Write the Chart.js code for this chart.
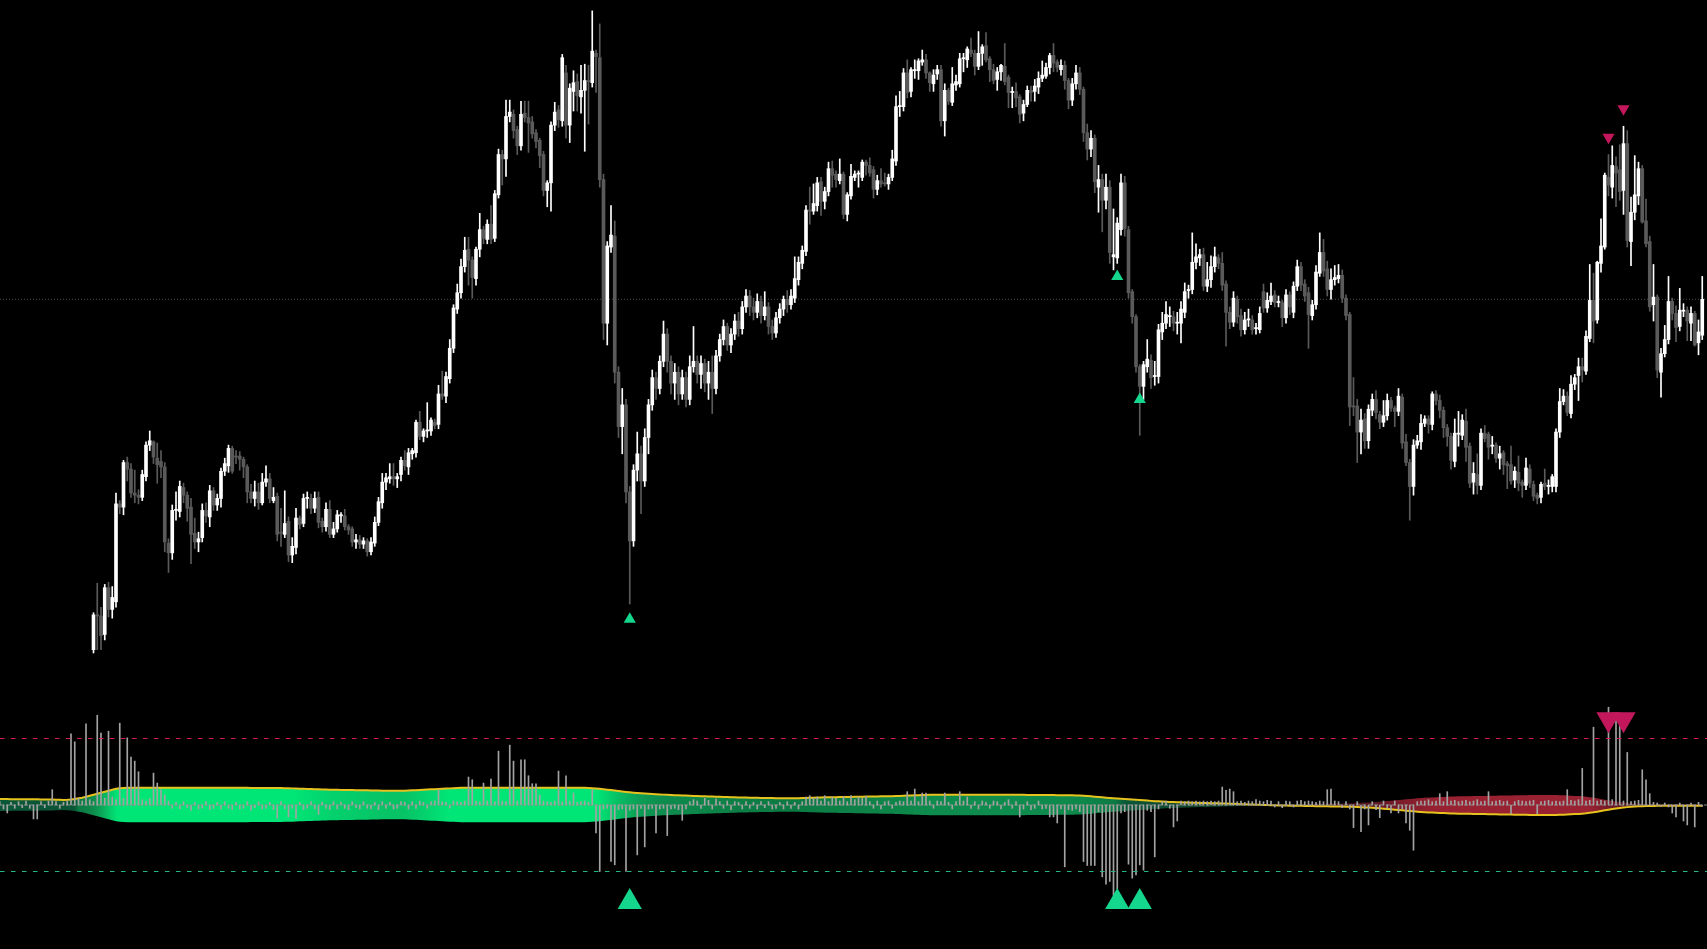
<!DOCTYPE html>
<html>
<head>
<meta charset="utf-8">
<script src="https://cdn.jsdelivr.net/npm/chart.js@4.4.1/dist/chart.umd.min.js"></script>
<style>
  html, body { margin: 0; padding: 0; background: #000; overflow: hidden; }
  #wrap { width: 1707px; height: 949px; }
</style>
</head>
<body>
<div id="wrap"><canvas id="myChart"></canvas></div>
<script>
// price bars, index 0 = first visible candle
const barOpen = [
  275,307,306,289,332,312,319,409,406,447, 441,419,417,415,434,463,466,451,448,443,
  373,364,403,402,424,417,406,382,374,378, 403,397,421,408,414,439,444,460,453,453,
  450,443,420,414,420,410,429,432,412,416, 383,381,393,362,369,396,391,414,414,405,
  415,393,388,404,381,386,398,398,388,386, 374,376,372,375,365,373,392,410,429,432,
  434,432,436,449,443,455,456,484,471,476, 476,484,482,510,508,524,552,588,603,627,
  643,633,616,643,661,652,666,653,693,730, 726,765,767,753,738,768,764,760,750,743,
  730,697,704,757,771,761,805,757,788,797, 783,789,798,796,823,819,707,575,645,655,
  530,480,500,420,375,440,455,430,470,500, 525,515,540,565,540,520,530,510,525,505,
  535,540,528,538,520,530,515,545,560,572, 555,565,577,570,590,600,590,585,595,582,
  590,572,566,580,588,597,592,598,615,630, 641,679,678,683,705,687,696,717,712,706,
  712,675,692,709,712,709,723,720,716,698, 706,704,703,709,724,774,774,805,788,807,
  807,815,817,805,795,804,808,761,789,778, 794,795,818,817,826,823,811,823,830,818,
  808,799,806,811,801,787,788,783,768,776, 789,788,792,800,802,810,821,815,808,812,
  798,780,795,805,790,750,735,745,700,707, 688,700,636,635,661,704,661,604,581,535,
  517,535,541,526,526,567,575,581,581,575, 575,585,605,606,631,635,638,609,615,627,
  635,630,611,585,576,597,582,569,578,578, 570,569,604,589,595,601,594,594,580,601,
  585,609,627,611,603,582,592,621,640,625, 606,615,616,619,598,583,499,499,475,487,
  467,495,505,491,484,490,504,497,494,507, 466,447,425,463,466,483,487,482,510,504,
  495,479,471,448,473,472,485,462,429,436, 426,474,473,462,463,451,456,446,445,431,
  438,429,426,441,427,417,415,428,425,425, 425,475,503,508,492,519,527,535,531,561,
  596,578,630,645,709,700,719,716,697,740, 650,677,692,717,669,650,592,599,530,547,
  560,595,584,572,586,587,575,584,557,564
];
const barHigh = [
  309,336,314,335,337,333,419,412,449,452, 446,440,422,440,466,476,467,465,458,447,
  377,408,420,430,428,420,414,396,383,409, 410,426,424,418,442,451,463,462,458,457,
  452,445,427,430,428,437,444,437,424,419, 405,421,397,378,405,398,418,420,418,420,
  420,396,410,412,392,403,401,404,390,388, 381,380,378,377,378,397,415,437,437,446,
  446,437,452,458,460,460,486,494,478,502, 488,487,518,531,530,560,592,611,634,654,
  654,636,645,676,664,670,683,697,735,734, 780,780,771,756,779,779,779,765,753,745,
  733,706,760,778,775,822,812,795,807,804, 812,813,812,862,826,850,712,650,683,669,
  535,515,505,425,445,475,462,478,505,532, 530,545,577,570,545,538,535,532,530,545,
  572,545,545,542,540,545,550,565,578,575, 570,583,585,595,606,605,598,602,600,604,
  594,578,585,593,600,605,606,636,636,646, 683,700,703,709,709,700,723,724,715,726,
  714,695,721,715,715,725,725,727,719,711, 717,713,712,734,784,788,809,817,810,817,
  818,826,822,806,808,812,812,795,791,810, 803,823,823,829,837,826,843,831,842,820,
  813,810,813,832,803,792,796,785,780,793, 793,799,806,816,814,823,832,817,817,816,
  800,800,812,810,792,758,752,748,720,712, 712,706,680,672,712,710,664,606,583,537,
  540,560,546,540,574,585,595,590,586,585, 595,612,610,658,648,643,644,631,637,645,
  638,640,614,590,604,600,588,585,588,582, 575,590,611,603,612,605,600,596,606,604,
  613,633,631,615,608,596,628,658,652,632, 625,628,629,624,601,585,525,505,496,492,
  500,510,513,494,504,510,507,499,515,510, 473,450,468,472,491,490,490,512,513,509,
  498,482,474,487,494,491,496,465,447,455, 478,481,475,471,465,462,458,448,462,443,
  453,431,451,445,430,419,429,441,431,436, 478,515,514,512,527,528,543,543,568,629,
  621,632,671,713,730,738,728,739,756,752, 691,729,723,720,689,655,629,601,552,573,
  618,598,591,607,593,590,590,586,578,618
];
const barLow = [
  272,275,275,284,305,304,314,400,399,430, 415,410,409,412,430,458,446,428,433,365,
  346,358,394,397,410,393,354,368,365,374, 392,388,403,403,406,435,438,437,446,440,
  433,410,410,407,404,408,425,410,410,375, 370,378,356,355,363,386,388,405,400,401,
  387,383,384,378,378,383,392,385,381,370, 368,368,368,361,362,370,389,405,422,428,
  426,424,430,440,436,450,452,468,466,470, 472,478,478,505,502,520,548,584,598,622,
  610,598,610,636,648,648,648,650,690,702, 710,760,745,730,734,760,732,745,736,718,
  692,682,678,752,755,756,745,741,770,770, 768,733,758,792,787,700,560,555,640,520,
  470,455,410,317,370,430,400,425,455,495, 505,510,535,530,510,505,500,505,498,500,
  530,520,515,512,505,492,510,540,555,550, 548,560,563,565,585,582,578,580,575,578,
  565,560,562,575,582,585,588,594,610,625, 637,666,675,678,674,680,692,700,700,703,
  671,669,689,706,700,706,711,710,690,693, 700,701,698,706,720,765,770,782,783,800,
  799,812,800,788,788,799,756,747,776,775, 789,792,806,810,820,803,808,812,815,797,
  795,789,798,794,773,773,774,759,761,774, 779,779,786,797,800,804,806,806,803,790,
  772,775,790,785,742,725,728,695,677,659, 680,630,624,630,656,655,598,575,530,472,
  505,530,515,518,520,560,570,572,568,565, 557,580,598,602,625,628,605,604,608,622,
  625,605,554,570,572,575,563,565,572,565, 565,566,585,585,592,590,590,572,575,583,
  580,605,605,595,552,578,588,618,618,600, 597,610,612,594,578,481,490,447,455,460,
  460,490,487,478,480,486,494,480,490,460, 444,394,417,460,459,480,474,477,500,488,
  470,462,441,443,462,468,448,424,418,418, 422,466,450,455,447,441,436,423,427,424,
  421,415,422,424,412,409,410,422,418,420, 420,470,500,490,488,514,504,521,528,558,
  557,575,622,643,692,690,682,688,675,645, 628,670,684,667,645,586,577,525,507,544,
  556,578,558,568,581,559,559,554,546,560
];
const barClose = [
  307,306,288,332,312,323,409,406,447,441, 419,417,415,436,463,467,452,445,443,374,
  364,403,404,425,417,405,381,374,377,403, 398,421,408,414,439,446,460,439,452,450,
  443,420,414,420,410,429,432,414,415,381, 382,391,362,370,396,390,414,415,405,414,
  392,388,404,381,386,399,399,388,385,374, 376,372,375,365,374,392,411,429,433,434,
  432,434,449,444,456,458,484,471,476,477, 486,481,510,508,526,552,589,603,627,642,
  633,617,643,661,653,666,652,694,730,726, 765,769,752,738,767,764,759,749,742,729,
  697,704,757,769,762,819,757,791,796,784, 789,798,797,825,820,707,575,646,656,530,
  480,500,420,375,440,455,430,470,500,525, 515,540,565,540,520,530,510,525,505,535,
  540,528,538,520,530,515,545,560,572,555, 565,577,570,590,600,590,585,595,582,590,
  572,566,580,588,597,592,600,616,631,642, 679,678,685,704,687,696,717,711,707,712,
  675,693,710,712,713,723,720,713,698,706, 703,703,709,726,774,775,805,787,808,808,
  816,817,805,796,803,808,761,789,779,795, 797,818,819,827,823,811,823,829,817,808,
  798,806,812,797,787,788,782,767,776,789, 787,793,800,803,810,821,814,810,812,798,
  780,795,805,790,750,735,745,705,707,688, 700,640,638,667,704,662,603,581,535,517,
  537,542,525,527,569,575,583,582,575,576, 588,604,606,631,636,638,609,615,627,636,
  630,610,585,576,598,581,569,578,579,569, 571,584,589,596,600,594,595,580,601,590,
  609,627,610,600,583,592,622,640,623,606, 615,617,619,598,582,498,498,475,486,467,
  496,505,493,484,490,504,497,494,508,465, 447,425,463,467,483,487,482,510,504,495,
  479,471,449,474,474,486,461,428,437,426, 474,469,461,463,451,455,445,444,430,439,
  428,426,442,428,416,414,427,425,426,434, 475,503,508,493,519,525,535,532,563,596,
  577,631,646,711,702,720,713,696,740,651, 677,693,717,668,648,590,599,532,547,560,
  595,584,571,587,587,577,584,555,567,597
];

// signal arrows on the price pane (bar index, price)
const buyBars = [143, 273, 279];
const buyPrices = [303, 618, 505];
const sellBars = [404, 408];
const sellPrices = [746, 772];
const refPrice = 597; // dotted reference level

// oscillator pane, starts 25 bars before the first visible candle
const oscStart = -25;
const oscLine = [
  .09,.09,.09,.088,.088,.087,.087,.086,.086,.085,
  .085,.084,.084,.083,.082,.08,.078,.077,.078,.082,
  .09,.10,.11,.125,.14,.155,.17,.185,.2,.215,
  .23,.245,.252,.256,.258,.258,.258,.258,.258,.258,
  .258,.258,.258,.258,.258,.258,.258,.258,.258,.258,
  .258,.258,.258,.258,.258,.258,.258,.258,.258,.258,
  .258,.258,.258,.258,.258,.258,.258,.257,.257,.257,
  .256,.256,.256,.255,.255,.254,.253,.252,.25,.248,
  .246,.244,.242,.24,.238,.236,.234,.232,.23,.229,
  .228,.227,.226,.225,.224,.223,.222,.221,.22,.219,
  .218,.217,.216,.215,.215,.215,.215,.215,.216,.218,
  .22,.223,.226,.229,.232,.235,.238,.241,.244,.247,
  .25,.253,.256,.258,.26,.26,.26,.26,.26,.26,
  .26,.26,.26,.26,.26,.26,.26,.26,.26,.26,
  .26,.26,.26,.26,.26,.26,.26,.26,.26,.26,
  .26,.26,.26,.26,.26,.259,.258,.256,.253,.249,
  .244,.238,.231,.224,.217,.21,.203,.197,.191,.186,
  .181,.176,.172,.168,.165,.162,.159,.156,.153,.15,
  .147,.145,.143,.141,.139,.137,.135,.133,.131,.129,
  .127,.125,.123,.121,.119,.117,.115,.113,.112,.111,
  .11,.109,.108,.107,.106,.105,.104,.103,.102,.101,
  .1,.1,.101,.102,.104,.106,.108,.11,.112,.114,
  .115,.116,.117,.118,.119,.12,.121,.122,.123,.124,
  .125,.126,.127,.128,.129,.13,.131,.132,.133,.135,
  .137,.139,.141,.143,.145,.147,.149,.151,.153,.154,
  .155,.155,.155,.155,.155,.155,.155,.155,.155,.155,
  .155,.155,.155,.155,.155,.155,.155,.155,.155,.155,
  .154,.154,.153,.153,.152,.152,.151,.151,.15,.15,
  .149,.149,.148,.148,.147,.146,.145,.143,.141,.138,
  .134,.13,.125,.12,.115,.11,.106,.102,.098,.094,
  .09,.086,.082,.078,.074,.07,.066,.062,.058,.055,
  .052,.049,.046,.044,.042,.04,.038,.036,.034,.032,
  .031,.03,.029,.028,.027,.025,.023,.021,.019,.017,
  .015,.013,.011,.009,.007,.005,.003,.001,-.001,-.003,
  -.005,-.007,-.008,-.009,-.01,-.011,-.012,-.013,-.014,-.015,
  -.016,-.017,-.018,-.019,-.02,-.021,-.022,-.023,-.024,-.025,
  -.026,-.028,-.03,-.033,-.036,-.039,-.042,-.046,-.05,-.055,
  -.06,-.065,-.07,-.075,-.08,-.085,-.09,-.095,-.1,-.104,
  -.108,-.111,-.114,-.117,-.12,-.122,-.124,-.126,-.128,-.13,
  -.131,-.132,-.133,-.134,-.135,-.136,-.137,-.138,-.139,-.14,
  -.141,-.142,-.143,-.144,-.145,-.146,-.147,-.148,-.149,-.15,
  -.15,-.15,-.15,-.15,-.15,-.149,-.148,-.146,-.143,-.14,
  -.137,-.134,-.13,-.125,-.118,-.11,-.1,-.09,-.08,-.07,
  -.06,-.052,-.045,-.038,-.032,-.027,-.023,-.02,-.018,-.016,
  -.015,-.014,-.013,-.012,-.012,-.011,-.011,-.01,-.01,-.01,
  -.01,-.01,-.01,-.01,-.01
];
const histValues = [
  .05,-.06,-.12,.04,-.05,.05,-.04,.06,-.05,-.21,
  -.21,.05,-.04,.06,.23,.05,-.05,.04,.06,1.07,
  .95,.1,.06,1.22,.08,.05,1.35,1.08,.1,1.11,
  .12,.08,1.23,.1,1.01,.72,.66,.5,.08,.06,
  .1,.48,.33,.23,.15,.06,-.05,.04,-.06,.05,
  -.04,-.08,.04,-.06,-.05,.05,-.07,-.05,.04,-.06,
  .05,-.05,-.07,.04,-.06,-.05,.05,-.08,-.04,.05,
  -.06,-.05,.04,-.07,-.2,.05,-.06,-.18,-.05,-.2,
  .04,-.07,-.05,.05,-.06,-.14,.04,-.05,-.07,.05,
  -.06,.04,-.05,-.07,.05,-.04,-.06,.05,-.05,-.06,
  .04,-.07,.05,-.05,.04,-.06,-.05,.05,.04,-.06,
  .05,-.05,.06,.04,-.05,.05,.06,.23,.05,.04,
  -.05,.06,.05,.04,.06,.42,.38,.06,.05,.33,
  .06,.39,.05,.81,.06,.05,.9,.66,.06,.68,
  .68,.44,.32,.32,.15,.06,.05,.04,.06,.51,
  .05,.44,.06,.18,.04,.05,.06,.04,.23,-.42,
  -1.0,-.06,-.05,-.85,-.9,-.07,-.06,-1.0,-.08,-.06,
  -.75,-.05,-.63,-.06,-.05,-.42,-.06,-.05,-.46,-.06,
  -.05,-.07,-.23,-.06,.05,.08,.06,-.05,.1,.07,
  -.06,.09,.05,-.05,.06,-.07,.05,.04,-.06,.05,
  -.05,.04,-.06,.05,-.04,.05,-.06,-.05,.04,-.06,
  .05,-.05,.04,-.06,.05,.12,.14,.1,.12,.06,
  .14,.05,.12,.1,.06,.13,.05,.14,.08,.12,
  .1,.13,.05,-.05,.06,-.06,.05,.06,-.05,.04,
  .06,.05,.2,.06,.24,.05,.18,.18,.06,-.05,
  .06,.05,.18,.04,-.06,.05,.2,.06,.12,-.05,
  .05,-.06,.06,.04,-.05,.06,.05,-.06,.04,.08,
  -.05,.05,-.18,-.06,.05,-.07,-.05,.06,-.06,-.05,
  -.18,-.18,-.27,-.06,-.93,-.07,-.08,-.06,-.1,-.85,
  -.91,-.91,-.91,-.1,-1.08,-1.19,-1.15,-1.36,-1.26,-.12,
  -.1,-.89,-1.1,-1.05,-.9,-.98,-.08,-.1,-.78,-.06,
  .05,.06,-.05,-.33,-.24,.06,.05,.06,.05,.06,
  .05,.06,.05,.06,.05,.06,.27,.22,.24,.2,
  .05,.06,.04,.06,.05,.08,.06,.05,.07,.06,
  -.03,.05,-.04,.06,.05,-.03,.06,.07,.05,.06,
  .05,.04,.06,.05,.23,.24,.06,.05,-.04,.05,
  -.06,-.34,.05,-.4,-.06,-.3,.05,-.07,-.19,.06,
  -.05,-.12,.06,-.12,-.06,-.27,-.38,-.68,.05,.06,
  .06,.08,.05,.06,.17,.05,.2,.06,.07,.05,
  .06,.07,.05,.06,.08,.05,.06,.2,.05,.06,
  .07,.05,.06,-.13,.05,.07,.06,.05,.06,.07,
  -.13,.05,.06,.07,.05,.06,.05,.06,.23,.07,
  .06,.08,.55,.06,.07,1.17,.06,.07,.06,1.47,
  .08,1.27,1.24,.06,.79,.05,.06,.07,.53,.38,
  .17,.04,.03,-.02,.03,-.03,-.12,-.18,.03,-.24,
  -.3,.03,-.33,.04,-.02
];
const upperLevel = 1;
const lowerLevel = -1;
const oscBuyBars = [143, 273, 279];
const oscSellBars = [404, 408];
const oscBuyLevel = -1.46;
const oscSellLevel = 1.29;

// layout of the picture (pixels)
const W = 1707, H = 949;
const firstBarX = 93.5, barStep = 3.75;
const xMin = -firstBarX / barStep;
const xMax = xMin + W / barStep;
const oscZeroY = 805, oscUnitPx = 66.5;

const bullCol = '#ffffff', bearCol = '#5a5a5a';
const greenArrow = '#14d68c', redArrow = '#c2185b';

const greenStops = [[0, [25, 60, 40]], [0.09, [10, 88, 56]], [0.1, [12, 122, 67]], [0.16, [14, 142, 78]], [0.21, [8, 190, 100]], [0.25, [0, 230, 118]]];
const redStops = [[0, [45, 28, 30]], [0.03, [80, 22, 32]], [0.08, [125, 28, 42]], [0.12, [152, 33, 50]]];

function stopColour(stops, v) {
  if (v <= stops[0][0]) return stops[0][1];
  for (let i = 1; i < stops.length; i++) {
    if (v <= stops[i][0]) {
      const [a, ca] = stops[i - 1];
      const [b, cb] = stops[i];
      const t = (v - a) / (b - a);
      return ca.map((c, k) => Math.round(c + (cb[k] - c) * t));
    }
  }
  return stops[stops.length - 1][1];
}
function bandColour(v) {
  const rgb = v >= 0 ? stopColour(greenStops, v) : stopColour(redStops, -v);
  return `rgb(${rgb.join(',')})`;
}

// horizontal gradient following the oscillator, so the band has no seams
function bandGradient(context) {
  const chart = context.chart;
  const area = chart.chartArea;
  if (!area) return bandColour(0.2);
  const xs = chart.scales.x;
  const grad = chart.ctx.createLinearGradient(area.left, 0, area.right, 0);
  const span = area.right - area.left;
  oscLine.forEach((v, i) => {
    const px = xs.getPixelForValue(oscStart + i);
    const off = Math.min(1, Math.max(0, (px - area.left) / span));
    grad.addColorStop(off, bandColour(v));
  });
  return grad;
}

function mainEvent() {
  const target = document.querySelector('#myChart');
  const idx = barOpen.map((_, i) => i);
  const colours = idx.map((i) => (barClose[i] >= barOpen[i] ? bullCol : bearCol));
  const oscX = oscLine.map((_, i) => oscStart + i);

  const datasets = [
    {
      type: 'line', label: 'ref', yAxisID: 'y', order: 20,
      data: [{x: xMin, y: refPrice}, {x: xMax, y: refPrice}],
      borderColor: '#4a4a4a', borderWidth: 1, borderDash: [1, 2], pointRadius: 0
    },
    {
      type: 'bar', label: 'wicks', yAxisID: 'y', order: 12, grouped: false,
      data: idx.map((i) => ({x: i, y: [barLow[i], barHigh[i]]})),
      backgroundColor: colours, barThickness: 1
    },
    {
      type: 'bar', label: 'bodies', yAxisID: 'y', order: 11, grouped: false,
      data: idx.map((i) => ({x: i, y: [barOpen[i], barClose[i]]})),
      backgroundColor: colours, barThickness: 3, minBarLength: 1
    },
    {
      type: 'line', label: 'osc', yAxisID: 'y2', order: 9,
      data: oscX.map((x, i) => ({x: x, y: oscLine[i]})),
      borderColor: '#e6c21e', borderWidth: 2, pointRadius: 0, tension: 0,
      fill: '+1', backgroundColor: bandGradient
    },
    {
      type: 'line', label: 'mirror', yAxisID: 'y2', order: 19,
      data: oscX.map((x, i) => ({x: x, y: -oscLine[i]})),
      borderWidth: 0, pointRadius: 0, tension: 0
    },
    {
      type: 'line', label: 'zero', yAxisID: 'y2', order: 8,
      data: [{x: xMin, y: 0}, {x: xMax, y: 0}],
      borderColor: '#8a8a8a', borderWidth: 1, borderDash: [4, 2], pointRadius: 0
    },
    {
      type: 'bar', label: 'hist', yAxisID: 'y2', order: 6, grouped: false,
      data: oscX.map((x, i) => ({x: x, y: histValues[i]})),
      backgroundColor: '#a3a3a3', barThickness: 1
    },
    {
      type: 'line', label: 'upper', yAxisID: 'y2', order: 5,
      data: [{x: xMin, y: upperLevel}, {x: xMax, y: upperLevel}],
      borderColor: '#d81b60', borderWidth: 1, borderDash: [4.5, 6.5], pointRadius: 0
    },
    {
      type: 'line', label: 'lower', yAxisID: 'y2', order: 5,
      data: [{x: xMin, y: lowerLevel}, {x: xMax, y: lowerLevel}],
      borderColor: '#26b58a', borderWidth: 1, borderDash: [4.5, 6.5], pointRadius: 0
    },
    {
      type: 'scatter', label: 'buy', yAxisID: 'y', order: 1,
      data: buyBars.map((b, i) => ({x: b, y: buyPrices[i]})),
      pointStyle: 'triangle', pointRadius: 7, backgroundColor: greenArrow, borderWidth: 0
    },
    {
      type: 'scatter', label: 'sell', yAxisID: 'y', order: 1,
      data: sellBars.map((b, i) => ({x: b, y: sellPrices[i]})),
      pointStyle: 'triangle', pointRotation: 180, pointRadius: 7, backgroundColor: redArrow, borderWidth: 0
    },
    {
      type: 'scatter', label: 'oscBuy', yAxisID: 'y2', order: 1,
      data: oscBuyBars.map((b) => ({x: b, y: oscBuyLevel})),
      pointStyle: 'triangle', pointRadius: 14, backgroundColor: greenArrow, borderWidth: 0
    },
    {
      type: 'scatter', label: 'oscSell', yAxisID: 'y2', order: 1,
      data: oscSellBars.map((b) => ({x: b, y: oscSellLevel})),
      pointStyle: 'triangle', pointRotation: 180, pointRadius: 14, backgroundColor: redArrow, borderWidth: 0
    }
  ];

  return new Chart(target, {
    type: 'bar',
    data: {datasets: datasets},
    options: {
      animation: false,
      responsive: true,
      maintainAspectRatio: false,
      events: [],
      layout: {padding: 0, autoPadding: false},
      plugins: {legend: {display: false}, tooltip: {enabled: false}},
      scales: {
        x: {type: 'linear', min: xMin, max: xMax, offset: false, display: false},
        y: {min: 0, max: 872, display: false},
        y2: {min: -(H - oscZeroY) / oscUnitPx, max: oscZeroY / oscUnitPx, display: false}
      }
    }
  });
}
document.addEventListener('DOMContentLoaded', () => mainEvent());
</script>
</body>
</html>
